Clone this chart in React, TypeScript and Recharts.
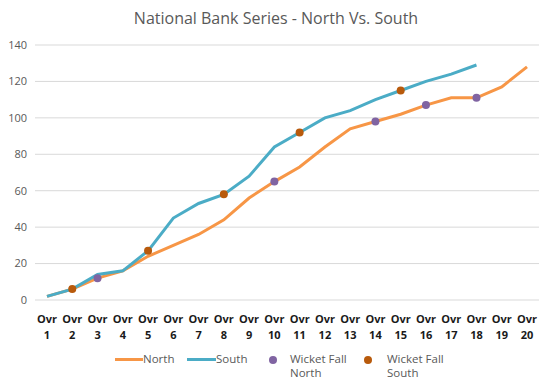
import React from 'react';
import { LineChart, Line, XAxis, YAxis, CartesianGrid } from 'recharts';

// Overs 1..20
const overs = [1, 2, 3, 4, 5, 6, 7, 8, 9, 10, 11, 12, 13, 14, 15, 16, 17, 18, 19, 20];

// Cumulative runs per over
const northRuns = [2, 6, 12, 16, 24, 30, 36, 44, 56, 65, 73, 84, 94, 98, 102, 107, 111, 111, 117, 128];
const southRuns = [2, 6, 14, 16, 27, 45, 53, 58, 68, 84, 92, 100, 104, 110, 115, 120, 124, 129, null, null];

// Wicket markers (null = no wicket that over)
const wicketNorth = [null, null, 12, null, null, null, null, null, null, 65, null, null, null, 98, null, 107, null, 111, null, null];
const wicketSouth = [null, 6, null, null, 27, null, null, 58, null, null, 92, null, null, null, 115, null, null, null, null, null];

const yTicks = [0, 20, 40, 60, 80, 100, 120, 140];

const NORTH = '#F79646';
const SOUTH = '#4BACC6';
const WKT_N = '#8064A2';
const WKT_S = '#B85A0C';
const FONT = '"Open Sans", sans-serif';

const chartData = overs.map((o, i) => ({
  over: String(o),
  north: northRuns[i],
  south: southRuns[i],
  wicketNorth: wicketNorth[i],
  wicketSouth: wicketSouth[i],
}));

const OverTick = (props: any) => {
  const { x, y, payload } = props;
  return (
    <g transform={`translate(${x},${y})`}>
      <text textAnchor="middle" fill="#1a1a1a" fontSize={11} fontWeight="bold" fontFamily={FONT}>
        <tspan x={0} dy={15}>Ovr</tspan>
        <tspan x={0} dy={16}>{payload.value}</tspan>
      </text>
    </g>
  );
};

const LegendItem: React.FC<{ left: number; children: React.ReactNode }> = ({ left, children }) => (
  <div style={{ position: 'absolute', left, top: 0, display: 'flex', alignItems: 'flex-start' }}>{children}</div>
);

const legendText: React.CSSProperties = { fontSize: 11.5, color: '#595959', fontFamily: FONT, lineHeight: '14px' };

export default function App() {
  return (
    <div style={{ position: 'relative', width: 552, height: 385, margin: -8, background: '#fff', overflow: 'hidden' }}>
      <div
        style={{
          position: 'absolute',
          top: 7,
          width: 552,
          textAlign: 'center',
          fontFamily: FONT,
          fontSize: 16,
          color: '#595959',
        }}
      >
        National Bank Series - North Vs. South
      </div>
      <LineChart width={552} height={385} data={chartData} margin={{ top: 45, right: 13, bottom: 0, left: 0 }}>
        <CartesianGrid vertical={false} stroke="#D9D9D9" />
        <XAxis
          dataKey="over"
          axisLine={false}
          tickLine={false}
          height={85}
          tick={<OverTick />}
          interval={0}
          padding={{ left: 12, right: 12 }}
        />
        <YAxis
          width={35}
          domain={[0, 140]}
          ticks={yTicks}
          axisLine={false}
          tickLine={false}
          tick={{ fontSize: 11, fill: '#595959', fontFamily: FONT }}
        />
        <Line dataKey="north" stroke={NORTH} strokeWidth={3} dot={false} isAnimationActive={false} />
        <Line dataKey="south" stroke={SOUTH} strokeWidth={3} dot={false} isAnimationActive={false} />
        <Line
          dataKey="wicketNorth"
          stroke="none"
          dot={{ r: 4, fill: WKT_N, stroke: WKT_N, strokeWidth: 0 }}
          isAnimationActive={false}
        />
        <Line
          dataKey="wicketSouth"
          stroke="none"
          dot={{ r: 4, fill: WKT_S, stroke: WKT_S, strokeWidth: 0 }}
          isAnimationActive={false}
        />
      </LineChart>
      <div style={{ position: 'absolute', left: 0, top: 352, width: 552, height: 32 }}>
        <LegendItem left={115}>
          <div style={{ width: 28, height: 3, background: NORTH, marginTop: 6 }} />
          <span style={legendText}>North</span>
        </LegendItem>
        <LegendItem left={187}>
          <div style={{ width: 29, height: 3, background: SOUTH, marginTop: 6 }} />
          <span style={legendText}>South</span>
        </LegendItem>
        <LegendItem left={269}>
          <div style={{ width: 8, height: 8, borderRadius: 4, background: WKT_N, marginTop: 4, marginRight: 13 }} />
          <span style={legendText}>
            Wicket Fall
            <br />
            North
          </span>
        </LegendItem>
        <LegendItem left={364}>
          <div style={{ width: 8, height: 8, borderRadius: 4, background: WKT_S, marginTop: 4, marginRight: 15 }} />
          <span style={legendText}>
            Wicket Fall
            <br />
            South
          </span>
        </LegendItem>
      </div>
    </div>
  );
}
